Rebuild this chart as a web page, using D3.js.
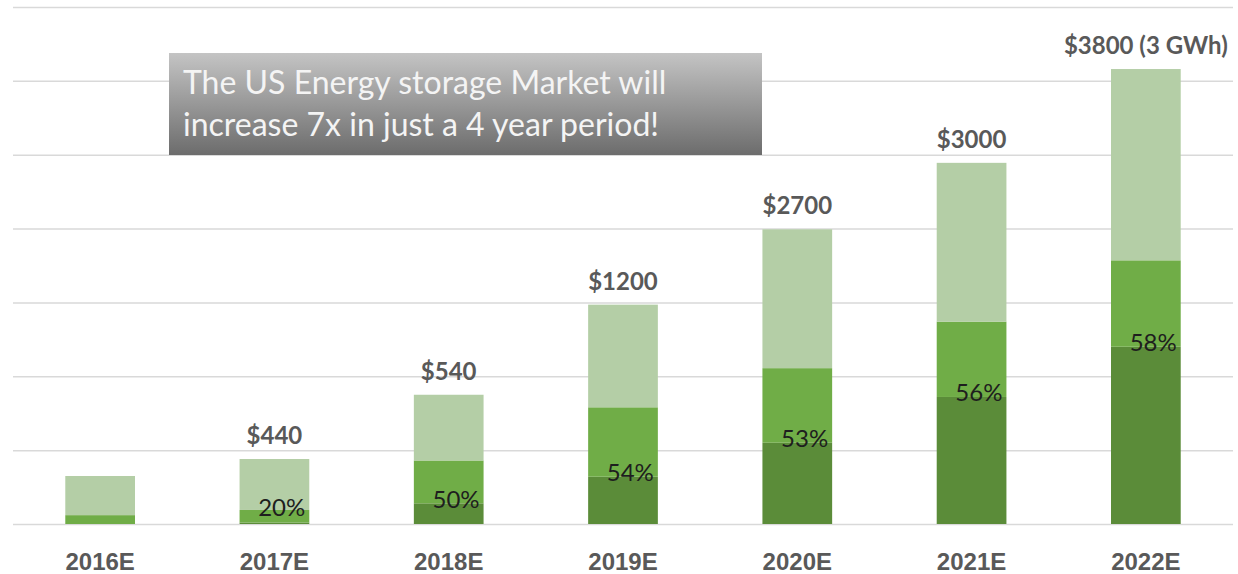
<!DOCTYPE html>
<html>
<head>
<meta charset="utf-8">
<script src="https://cdn.jsdelivr.net/npm/d3@7"></script>
<style>
  body { margin: 0; background: #fff; }
  svg { display: block; font-family: Lato, "Open Sans", sans-serif; }
  .grid line { stroke: #d9d9d9; stroke-width: 1.5; }
  .grid .domain { display: none; }
  .xaxis .domain, .xaxis line { display: none; }
  .xaxis text { font-size: 24px; font-weight: bold; fill: #595959; }
</style>
</head>
<body>
<script>
// categories and stacked segments (chart units, not to $ scale)
var years = ["2016E", "2017E", "2018E", "2019E", "2020E", "2021E", "2022E"];
var darkPart  = [0, 10, 140, 320, 550, 860, 1200];
var midPart   = [60, 85, 290, 470, 505, 510, 585];
var lightPart = [265, 345, 445, 695, 940, 1075, 1295];
var totalLabels = ["", "$440", "$540", "$1200", "$2700", "$3000", "$3800 (3 GWh)"];
var pctLabels = ["", "20%", "50%", "54%", "53%", "56%", "58%"];
var gridTicks = [0, 500, 1000, 1500, 2000, 2500, 3000, 3500];
var note = ["The US Energy storage Market will", "increase 7x in just a 4 year period!"];

var W = 1238, H = 574;
var margin = {top: 7, right: 5, bottom: 50, left: 13};

var rows = years.map(function(y, i) {
  return {year: y, dark: darkPart[i], mid: midPart[i], light: lightPart[i],
          total: totalLabels[i], pct: pctLabels[i]};
});

var svg = d3.select("body").append("svg")
    .attr("width", W)
    .attr("height", H);

var x = d3.scaleBand()
    .domain(years)
    .range([margin.left, W - margin.right])
    .paddingInner(0.6)
    .paddingOuter(0.3);

var y = d3.scaleLinear()
    .domain([0, 3500])
    .range([H - margin.bottom, margin.top]);

// gridlines
svg.append("g")
    .attr("class", "grid")
    .attr("transform", "translate(" + margin.left + ",0)")
    .call(d3.axisLeft(y).tickValues(gridTicks).tickSize(-(W - margin.left - margin.right)).tickFormat(""));

// gradient for the call-out box
var defs = svg.append("defs");
var grad = defs.append("linearGradient")
    .attr("id", "boxGrad")
    .attr("x1", 0).attr("y1", 0).attr("x2", 0).attr("y2", 1);
grad.append("stop").attr("offset", "0%").attr("stop-color", "#c4c4c4");
grad.append("stop").attr("offset", "100%").attr("stop-color", "#6c6c6c");

// stacked bars
var keys = ["dark", "mid", "light"];
var colors = {dark: "#5b8c39", mid: "#70ad47", light: "#b4cea6"};
var stack = d3.stack().keys(keys)(rows);

svg.append("g").selectAll("g")
  .data(stack)
  .join("g")
    .attr("fill", function(d) { return colors[d.key]; })
  .selectAll("rect")
  .data(function(d) { return d; })
  .join("rect")
    .attr("x", function(d) { return x(d.data.year); })
    .attr("width", x.bandwidth())
    .attr("y", function(d) { return y(d[1]); })
    .attr("height", function(d) { return y(d[0]) - y(d[1]); });

// total labels above bars
svg.append("g").selectAll("text")
  .data(rows)
  .join("text")
    .attr("x", function(d) { return x(d.year) + x.bandwidth() / 2; })
    .attr("y", function(d) { return y(d.dark + d.mid + d.light) - 15; })
    .attr("text-anchor", "middle")
    .attr("font-size", 24)
    .attr("font-weight", "bold")
    .attr("fill", "#595959")
    .text(function(d) { return d.total; });

// percent labels, right aligned at the dark segment top
svg.append("g").selectAll("text")
  .data(rows)
  .join("text")
    .attr("x", function(d) { return x(d.year) + x.bandwidth() - 4; })
    .attr("y", function(d) { return Math.min(y(d.dark) - 4, y(0) - 16); })
    .attr("dy", "0.35em")
    .attr("text-anchor", "end")
    .attr("font-size", 24)
    .attr("fill", "#1e1e1e")
    .text(function(d) { return d.pct; });

// x axis labels
svg.append("g")
    .attr("class", "xaxis")
    .attr("transform", "translate(0," + (H - margin.bottom) + ")")
    .call(d3.axisBottom(x).tickSize(0).tickPadding(29));

// call-out box
var box = svg.append("g").attr("transform", "translate(169,53)");
box.append("rect")
    .attr("width", 593)
    .attr("height", 102)
    .attr("fill", "url(#boxGrad)");
box.selectAll("text")
  .data(note)
  .join("text")
    .attr("x", 14)
    .attr("y", function(d, i) { return 41 + i * 42; })
    .attr("font-size", 32)
    .attr("fill", "#f4f4f4")
    .text(function(d) { return d; });
</script>
</body>
</html>
